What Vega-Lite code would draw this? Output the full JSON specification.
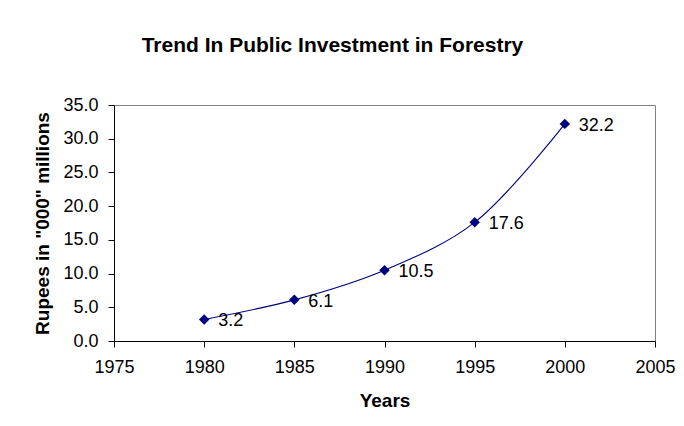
{
  "$schema": "https://vega.github.io/schema/vega-lite/v6.json",
  "autosize": "none",
  "width": 541,
  "height": 236,
  "padding": {"left": 114, "top": 105, "right": 29, "bottom": 85},
  "background": "white",
  "title": {
    "text": "Trend In Public Investment in Forestry",
    "font": "Liberation Sans",
    "fontSize": 21,
    "fontWeight": "bold",
    "color": "black",
    "anchor": "middle",
    "dx": -52,
    "offset": 40
  },
  "config": {
    "view": {"stroke": "#808080", "strokeWidth": 1},
    "font": "Liberation Sans"
  },
  "data": {
    "values": [
      {"year": 1980, "value": 3.2},
      {"year": 1985, "value": 6.1},
      {"year": 1990, "value": 10.5},
      {"year": 1995, "value": 17.6},
      {"year": 2000, "value": 32.2}
    ]
  },
  "encoding": {
    "x": {
      "field": "year",
      "type": "quantitative",
      "scale": {"domain": [1975, 2005], "nice": false, "zero": false},
      "axis": {
        "title": "Years",
        "values": [1975, 1980, 1985, 1990, 1995, 2000, 2005],
        "format": "d",
        "grid": false,
        "domainColor": "black",
        "tickColor": "black",
        "tickSize": 6,
        "labelFont": "Liberation Sans",
        "labelFontSize": 18,
        "labelColor": "black",
        "labelPadding": 11,
        "labelFlush": false,
        "titleFont": "Liberation Sans",
        "titleFontSize": 19,
        "titleFontWeight": "bold",
        "titleColor": "black",
        "titlePadding": 15
      }
    },
    "y": {
      "field": "value",
      "type": "quantitative",
      "scale": {"domain": [0, 35], "nice": false},
      "axis": {
        "title": "Rupees in \"000\" millions",
        "values": [0, 5, 10, 15, 20, 25, 30, 35],
        "format": ".1f",
        "grid": false,
        "domainColor": "black",
        "tickColor": "black",
        "tickSize": 6,
        "labelFont": "Liberation Sans",
        "labelFontSize": 18,
        "labelColor": "black",
        "labelPadding": 10,
        "labelFlush": false,
        "titleFont": "Liberation Sans",
        "titleFontSize": 19,
        "titleFontWeight": "bold",
        "titleColor": "black",
        "titlePadding": 10
      }
    }
  },
  "layer": [
    {
      "mark": {"type": "line", "interpolate": "catmull-rom", "color": "#000080", "strokeWidth": 1.1}
    },
    {
      "mark": {"type": "point", "shape": "diamond", "filled": true, "color": "#000080", "size": 110, "opacity": 1}
    },
    {
      "mark": {"type": "text", "align": "left", "baseline": "middle", "dx": 14, "dy": 2, "font": "Liberation Sans", "fontSize": 18, "color": "black"},
      "encoding": {"text": {"field": "value", "type": "quantitative", "format": ".1f"}}
    }
  ]
}
